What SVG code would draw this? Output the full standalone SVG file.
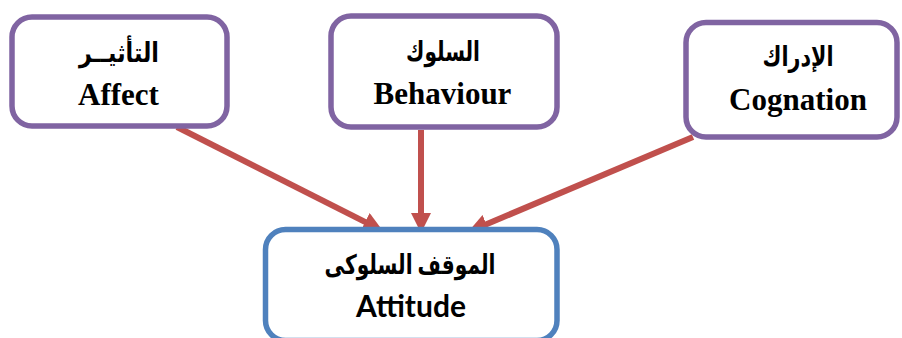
<svg xmlns="http://www.w3.org/2000/svg" width="902" height="338" viewBox="0 0 902 338">
<style>
.top rect{fill:#fff;stroke:#8064A2;stroke-width:5.5}
.bot rect{fill:#fff;stroke:#4F81BD;stroke-width:5.5}
.en{font-family:"Liberation Serif","Times New Roman",serif;font-weight:bold;font-size:31px;fill:#000;text-anchor:middle}
.ar{font-family:"Liberation Serif","DejaVu Sans",sans-serif;font-weight:bold;font-size:27px;fill:#000;text-anchor:middle}
.cal{font-family:Lato,"Open Sans",sans-serif;font-weight:bold;font-size:30px;fill:#000;text-anchor:middle}
.con line{stroke:#C0504D;stroke-width:6;marker-end:url(#ah)}
</style>
<defs>
<marker id="ah" markerUnits="userSpaceOnUse" markerWidth="22" markerHeight="22" viewBox="0 0 22 22" refX="2" refY="10" orient="auto">
<path d="M0,0 L20,10 L0,20 z" fill="#C0504D"/>
</marker>
</defs>
<g id="connectors" class="con">
<line x1="177" y1="127" x2="366.9" y2="222.9"/>
<line x1="421" y1="130" x2="421" y2="215"/>
<line x1="693" y1="137" x2="484.6" y2="225"/>
</g>
<g id="affect" class="top">
<rect x="12" y="17" width="215" height="109" rx="20"/>
<text class="ar" x="119" y="62" direction="rtl" textLength="80" lengthAdjust="spacingAndGlyphs">التأثيــر</text>
<text class="en" x="118.5" y="105">Affect</text>
</g>
<g id="behaviour" class="top">
<rect x="331" y="16" width="226" height="111" rx="20"/>
<text class="ar" x="443" y="61" direction="rtl" textLength="74" lengthAdjust="spacingAndGlyphs">السلوك</text>
<text class="en" x="442.5" y="104">Behaviour</text>
</g>
<g id="cognation" class="top">
<rect x="686" y="22.5" width="211" height="114.5" rx="20"/>
<text class="ar" x="798" y="66" direction="rtl" textLength="71" lengthAdjust="spacingAndGlyphs">الإدراك</text>
<text class="en" x="798" y="110">Cognation</text>
</g>
<g id="attitude" class="bot">
<rect x="265.5" y="229.5" width="291.5" height="111" rx="20"/>
<text class="ar" x="410" y="274" direction="rtl" font-size="29" textLength="171" lengthAdjust="spacingAndGlyphs">الموقف السلوكى</text>
<text class="cal" x="411" y="317">Attitude</text>
</g>
</svg>
